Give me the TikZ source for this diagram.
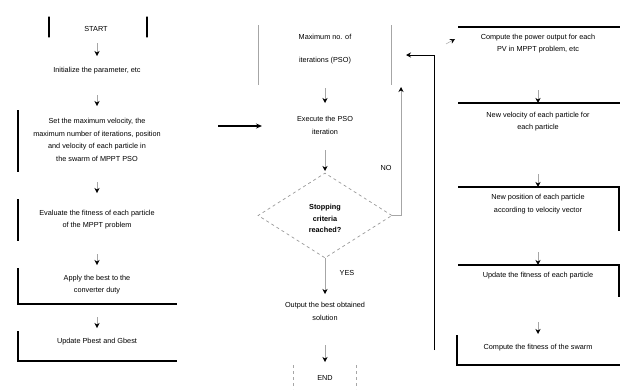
\documentclass[tikz,border=0pt]{standalone}
\usepackage{fontspec}
\setmainfont{Liberation Sans}
\usetikzlibrary{arrows.meta,shapes.geometric}
\begin{document}
\begin{tikzpicture}[x=1pt,y=-1pt,
  txt/.style={align=center,font=\fontsize{7.3}{12.5}\selectfont,inner sep=0pt},
  edge/.style={line width=1.1pt,black},
  faint/.style={line width=0.5pt,gray!70},
  arr/.style={faint,-{Stealth[length=5pt,width=5pt,black]}},
  bigarr/.style={line width=1.1pt,-{Stealth[length=6pt,width=5pt]}},
  dia/.style={diamond,draw=gray!80,dashed,line width=0.7pt,minimum width=134pt,minimum height=85pt,aspect=1.58,inner sep=0pt}]
\useasboundingbox (0,0) rectangle (621,389);
% ---------------- left column ----------------
\node[txt] (start) at (96,29) {START};
\draw[edge,line cap=round] (49,17) -- (49,37);
\draw[edge,line cap=round] (147,17) -- (147,37);
\node[txt] (init) at (97,71) {Initialize the parameter, etc};
\node[txt] (set) at (97,140) {Set the maximum velocity, the\\maximum number of iterations, position\\and velocity of each particle in\\the swarm of MPPT PSO};
\draw[edge] (18,110) -- (18,172);
\node[txt] (calc) at (97,219.5) {Evaluate the fitness of each particle\\of the MPPT problem};
\draw[edge] (18,199) -- (18,241);
\node[txt] (apply) at (97,284.5) {Apply the best to the\\converter duty};
\draw[edge] (18,268) -- (18,304) -- (177,304);
\node[txt] (upd) at (97,342) {Update Pbest and Gbest};
\draw[edge] (18,331) -- (18,361) -- (177,361);
\draw[arr] (97,43) -- (97,56);
\draw[arr] (97,95) -- (97,106);
\draw[arr] (97,182) -- (97,193);
\draw[arr] (97,254) -- (97,265);
\draw[arr] (97,317) -- (97,328);
% big arrow to centre
\coordinate (la) at (218,126);
\coordinate (lb) at (262,126);
\draw[bigarr] (la) -- (lb);
% ---------------- centre column ----------------
\node[txt] (max) at (325,49) {Maximum no. of\\[10pt]iterations (PSO)};
\draw[faint,line width=0.8pt] (258,25) -- (258,85);
\draw[faint,line width=0.8pt] (391,25) -- (391,85);
\node[txt] (exe) at (325,125.5) {Execute the PSO\\iteration};
\node[dia] (d) at (325,215.5) {};
\node[txt,font=\fontsize{7.3}{11.5}\selectfont\bfseries] at (325,218.5) {Stopping\\criteria\\reached?};
\node[txt] (out) at (325,311.5) {Output the best obtained\\solution};
\node[txt] (end) at (325,378) {END};
\draw[faint,dashed] (293,365) -- (293,389);
\draw[faint,dashed] (356,365) -- (356,389);
\draw[arr] (325,88) -- (325,103);
\draw[arr] (325,150) -- (325,171);
\draw[arr] (d.south) -- (325,294);
\node[txt] (yes) at (347,273) {YES};
\draw[arr] (325,345) -- (325,362);
\coordinate (nr) at (401,215.5);
\coordinate (nt) at (401,87);
\draw[faint,line width=0.8pt] (d.east) -- (nr);
\draw[arr,line width=0.8pt] (nr) -- (nt);
\node[txt] (no) at (386,168) {NO};
% ---------------- right column ----------------
\node[txt] (c1) at (538,43.5) {Compute the power output for each\\PV in MPPT problem, etc};
\draw[edge] (458,27) -- (620,27);
\node[txt] (c2) at (538,121.5) {New velocity of each particle for\\each particle};
\draw[edge] (458,103) -- (620,103);
\node[txt] (c3) at (538,204) {New position of each particle\\according to velocity vector};
\draw[edge] (458,187) -- (619,187) -- (619,231);
\node[txt] (c4) at (538,276) {Update the fitness of each particle};
\draw[edge] (458,265) -- (619,265) -- (619,297);
\node[txt] (c5) at (538,348) {Compute the fitness of the swarm};
\draw[edge] (457,335) -- (457,365) -- (620,365);
\draw[arr] (538,90) -- (538,103);
\draw[arr] (538,174) -- (538,187);
\draw[arr] (538,252) -- (538,265);
\draw[arr] (538,322) -- (538,334);
% loop back
\coordinate (lp1) at (434.5,350);
\coordinate (lp2) at (434.5,55);
\coordinate (lp3) at (406,55);
\draw[edge,line width=1pt,-{Stealth[length=5pt,width=5pt]}] (lp1) -- (lp2) -- (lp3);
\coordinate (t1) at (446,44);
\coordinate (t2) at (455,39);
\draw[faint,-{Stealth[length=5pt,width=5pt,black]}] (t1) -- (t2);
\end{tikzpicture}
\end{document}
